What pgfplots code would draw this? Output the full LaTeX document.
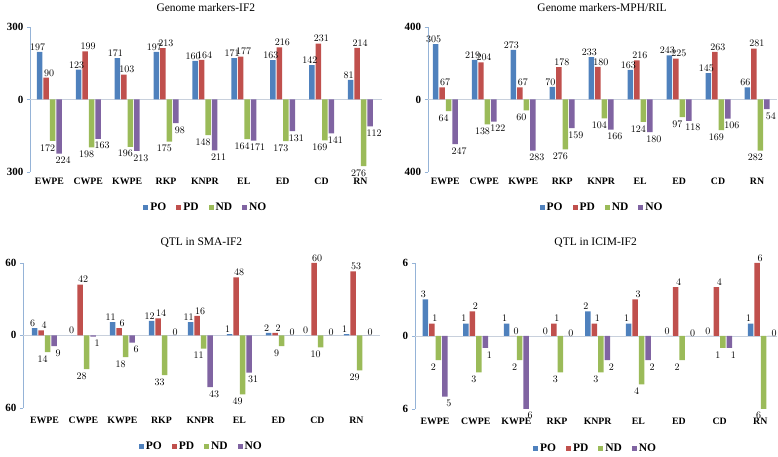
\documentclass[border=0pt]{standalone}
\usepackage{pgfplots}
\pgfplotsset{compat=1.18}
\usepackage{fontspec}
\setmainfont{Liberation Serif}
\definecolor{cPO}{RGB}{79,129,189}
\definecolor{cPD}{RGB}{192,80,77}
\definecolor{cND}{RGB}{155,187,89}
\definecolor{cNO}{RGB}{128,100,162}
\definecolor{axblue}{RGB}{149,179,215}
\definecolor{zeroline}{RGB}{200,208,220}

\pgfplotsset{
 panel/.style={
  scale only axis,
  ybar=1pt, bar width=5.5pt,
  xmin=-0.5, xmax=8.55,
  xtick={0,...,8},
  xticklabels={EWPE,CWPE,KWPE,RKP,KNPR,EL,ED,CD,RN},
  x tick label style={font=\fontsize{9.8}{10}\selectfont\bfseries},
  y tick label style={font=\fontsize{11}{11}\selectfont\bfseries},
  axis y line*=left,
  axis x line*=bottom,
  x axis line style={draw=none},
  y axis line style={draw=axblue},
  xtick style={draw=none},
  ytick style={draw=axblue},
  tick align=outside,
  major tick length=3pt,
  nodes near coords={\pgfmathfloatparse{abs(\pgfplotspointmeta)}\pgfmathprintnumber[fixed,precision=0]{\pgfmathresult}},
  nodes near coords align=vertical,
  nodes near coords style={font=\fontsize{10}{10}\selectfont, inner sep=1.5pt},
  title style={font=\fontsize{11.5}{12}\selectfont, yshift=6pt},
  legend style={draw=none, at={(0.5,-0.245)}, anchor=center, legend columns=4,
    font=\fontsize{11.5}{11}\selectfont\bfseries,
    /tikz/every even column/.append style={column sep=8pt}},
  legend image code/.code={\fill[##1] (0pt,-2.5pt) rectangle (5pt,2.5pt);},
  clip=false,
 },
 lower/.style={
  x tick label style={yshift=-2.5pt},
  legend style={at={(0.5,-0.27)}},
 },
 sPO/.style={fill=cPO, draw=none, every node near coord/.append style={xshift=-2pt}},
 sPD/.style={fill=cPD, draw=none, every node near coord/.append style={xshift=3pt}},
 sND/.style={fill=cND, draw=none, every node near coord/.append style={xshift=-5pt, yshift=-2pt}},
 sNO/.style={fill=cNO, draw=none, every node near coord/.append style={xshift=4pt, yshift=-2pt}},
}

\begin{document}
\begin{tikzpicture}
\path (0pt,0pt) rectangle (778pt,-451pt);

% Top left
\begin{axis}[panel, at={(30pt,-172pt)}, anchor=south west, width=352pt, height=145pt,
  ymin=-300, ymax=300, ytick={-300,0,300}, yticklabels={300,0,300},
  title={Genome markers-IF2}]
\draw[zeroline] (axis cs:-0.5,0) -- (axis cs:8.55,0);
\addplot[sPO] coordinates {(0,197) (1,123) (2,171) (3,197) (4,160) (5,171) (6,163) (7,142) (8,81)};
\addplot[sPD] coordinates {(0,90) (1,199) (2,103) (3,213) (4,164) (5,177) (6,216) (7,231) (8,214)};
\addplot[sND] coordinates {(0,-172) (1,-198) (2,-196) (3,-175) (4,-148) (5,-164) (6,-173) (7,-169) (8,-276)};
\addplot[sNO] coordinates {(0,-224) (1,-163) (2,-213) (3,-98) (4,-211) (5,-171) (6,-131) (7,-141) (8,-112)};
\legend{PO,PD,ND,NO}
\end{axis}

% Top right
\begin{axis}[panel, at={(428pt,-172pt)}, anchor=south west, width=349pt, height=145pt,
  xmin=-0.45, xmax=8.5,
  ymin=-400, ymax=400, ytick={-400,0,400}, yticklabels={400,0,400},
  title={Genome markers-MPH/RIL}]
\draw[zeroline] (axis cs:-0.45,0) -- (axis cs:8.5,0);
\addplot[sPO] coordinates {(0,305) (1,219) (2,273) (3,70) (4,233) (5,163) (6,243) (7,145) (8,66)};
\addplot[sPD] coordinates {(0,67) (1,204) (2,67) (3,178) (4,180) (5,216) (6,225) (7,263) (8,281)};
\addplot[sND] coordinates {(0,-64) (1,-138) (2,-60) (3,-276) (4,-104) (5,-124) (6,-97) (7,-169) (8,-282)};
\addplot[sNO] coordinates {(0,-247) (1,-122) (2,-283) (3,-159) (4,-166) (5,-180) (6,-118) (7,-106) (8,-54)};
\legend{PO,PD,ND,NO}
\end{axis}

% Bottom left
\begin{axis}[panel, lower, at={(23pt,-408pt)}, anchor=south west, width=357pt, height=145pt,
  xmin=-0.55, xmax=8.6,
  ymin=-60, ymax=60, ytick={-60,0,60}, yticklabels={60,0,60},
  title={QTL in SMA-IF2}]
\draw[zeroline] (axis cs:-0.55,0) -- (axis cs:8.6,0);
\addplot[sPO] coordinates {(0,6) (1,0) (2,11) (3,12) (4,11) (5,1) (6,2) (7,0) (8,1)};
\addplot[sPD] coordinates {(0,4) (1,42) (2,6) (3,14) (4,16) (5,48) (6,2) (7,60) (8,53)};
\addplot[sND] coordinates {(0,-14) (1,-28) (2,-18) (3,-33) (4,-11) (5,-49) (6,-9) (7,-10) (8,-29)};
\addplot[sNO] coordinates {(0,-9) (1,-1) (2,-6) (3,0) (4,-43) (5,-31) (6,0) (7,0) (8,0)};
\legend{PO,PD,ND,NO}
\end{axis}

% Bottom right
\begin{axis}[panel, lower, at={(415pt,-409pt)}, anchor=south west, width=362pt, height=146pt,
  xmin=-0.5, xmax=8.4,
  ymin=-6, ymax=6, ytick={-6,0,6}, yticklabels={6,0,6},
  title={QTL in ICIM-IF2}]
\draw[zeroline] (axis cs:-0.5,0) -- (axis cs:8.4,0);
\addplot[sPO] coordinates {(0,3) (1,1) (2,1) (3,0) (4,2) (5,1) (6,0) (7,0) (8,1)};
\addplot[sPD] coordinates {(0,1) (1,2) (2,0) (3,1) (4,1) (5,3) (6,4) (7,4) (8,6)};
\addplot[sND] coordinates {(0,-2) (1,-3) (2,-2) (3,-3) (4,-3) (5,-4) (6,-2) (7,-1) (8,-6)};
\addplot[sNO] coordinates {(0,-5) (1,-1) (2,-6) (3,0) (4,-2) (5,-2) (6,0) (7,-1) (8,0)};
\legend{PO,PD,ND,NO}
\end{axis}
\end{tikzpicture}
\end{document}
